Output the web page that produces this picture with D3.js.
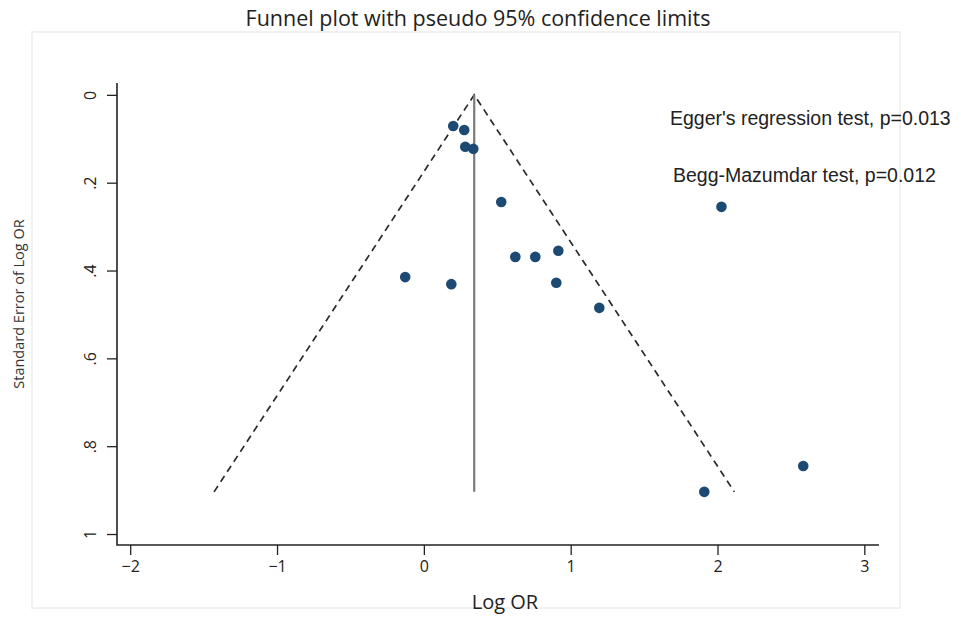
<!DOCTYPE html>
<html>
<head>
<meta charset="utf-8">
<script src="https://cdn.jsdelivr.net/npm/d3@7/dist/d3.min.js"></script>
<style>
  html, body { margin: 0; padding: 0; background: #fff; }
  svg { display: block; }
</style>
</head>
<body>
<svg id="chart" width="961" height="626"></svg>
<script>
// Study estimates: log odds ratio and its standard error
const logOR = [0.20, 0.275, 0.282, 0.337, 0.527, 0.623, 0.759, 0.916, -0.127, 0.187, 0.902, 1.195, 2.027, 2.584, 1.910];
const seLogOR = [0.071, 0.080, 0.118, 0.123, 0.244, 0.369, 0.369, 0.355, 0.415, 0.431, 0.428, 0.485, 0.255, 0.845, 0.904];

// Pooled estimate and the pseudo 95% limits
const pooled = 0.343;
const z95 = 1.96;

const xTicks = [-2, -1, 0, 1, 2, 3];
const yTicks = [0, 0.2, 0.4, 0.6, 0.8, 1];
const annotations = ["Egger's regression test, p=0.013", "Begg-Mazumdar test, p=0.012"];

const svg = d3.select("#chart");
const uiFont = "'Open Sans', sans-serif";

// Outer graph region frame
svg.append("rect")
  .attr("x", 32).attr("y", 32).attr("width", 868).attr("height", 576)
  .attr("fill", "none").attr("stroke", "#f1f1f1").attr("stroke-width", 2);

const x = d3.scaleLinear().domain([-2.09, 3.1]).range([117, 879]);
const y = d3.scaleLinear().domain([-0.027, 1.025]).range([83, 545]);

// Title
svg.append("text")
  .attr("x", 478).attr("y", 26)
  .attr("text-anchor", "middle")
  .attr("font-family", uiFont)
  .attr("font-size", 21.5)
  .attr("fill", "#222")
  .text("Funnel plot with pseudo 95% confidence limits");

// Axes
const axisColor = "#222";
const xAxis = svg.append("g")
  .attr("transform", `translate(0,${y.range()[1]})`)
  .call(d3.axisBottom(x).tickValues(xTicks).tickSize(10).tickPadding(6)
    .tickFormat(d => d < 0 ? "\u2212" + Math.abs(d) : String(d)));
xAxis.select(".domain").remove();
xAxis.selectAll("line").attr("stroke", axisColor).attr("stroke-width", 1.3);
xAxis.selectAll("text")
  .attr("font-family", uiFont).attr("font-size", 16).attr("fill", "#222");

const yAxis = svg.append("g")
  .attr("transform", `translate(${x.range()[0]},0)`)
  .call(d3.axisLeft(y).tickValues(yTicks).tickSize(10).tickPadding(6)
    .tickFormat(d => d === 0 ? "0" : d === 1 ? "1" : d3.format(".1f")(d).replace(/^0/, "")));
yAxis.select(".domain").remove();
yAxis.selectAll("line").attr("stroke", axisColor).attr("stroke-width", 1.3);
yAxis.selectAll("text")
  .attr("font-family", uiFont).attr("font-size", 16).attr("fill", "#222")
  .attr("text-anchor", "middle").attr("dy", 0)
  .attr("transform", "translate(-26,0) rotate(-90)")
  .attr("x", 0).attr("y", 5);

// Axis lines
svg.append("path")
  .attr("d", `M${x.range()[0]},${y.range()[0]} V${y.range()[1]} H${x.range()[1]}`)
  .attr("fill", "none").attr("stroke", axisColor).attr("stroke-width", 1.6);

// Axis titles
svg.append("text")
  .attr("x", 505).attr("y", 609)
  .attr("text-anchor", "middle")
  .attr("font-family", uiFont).attr("font-size", 20).attr("fill", "#222")
  .text("Log OR");
svg.append("text")
  .attr("transform", `translate(24,304) rotate(-90)`)
  .attr("text-anchor", "middle")
  .attr("font-family", uiFont).attr("font-size", 14.5).attr("fill", "#333")
  .text("Standard Error of Log OR");

// Funnel limits
const maxSE = d3.max(seLogOR);
const funnel = [
  [pooled - z95 * maxSE, maxSE],
  [pooled, 0],
  [pooled + z95 * maxSE, maxSE]
];
svg.append("path")
  .attr("d", d3.line().x(d => x(d[0])).y(d => y(d[1]))(funnel))
  .attr("fill", "none").attr("stroke", "#2a2a2a").attr("stroke-width", 1.7)
  .attr("stroke-dasharray", "7,5");

// Pooled estimate line
svg.append("line")
  .attr("x1", x(pooled)).attr("x2", x(pooled))
  .attr("y1", y(0)).attr("y2", y(maxSE))
  .attr("stroke", "#7a7a7a").attr("stroke-width", 2.2);

// Study points
svg.append("g").selectAll("circle")
  .data(logOR.map((v, i) => ({ est: v, se: seLogOR[i] })))
  .join("circle")
  .attr("cx", d => x(d.est)).attr("cy", d => y(d.se))
  .attr("r", 5.3)
  .attr("fill", "#1c4a72");

// Test annotations
svg.append("g").selectAll("text")
  .data(annotations)
  .join("text")
  .attr("x", (d, i) => i === 0 ? 670 : 673)
  .attr("y", (d, i) => i === 0 ? 125 : 182)
  .attr("font-family", "'Liberation Sans', Arial, sans-serif")
  .attr("font-size", 19.5)
  .attr("fill", "#222")
  .text(d => d);
</script>
</body>
</html>
